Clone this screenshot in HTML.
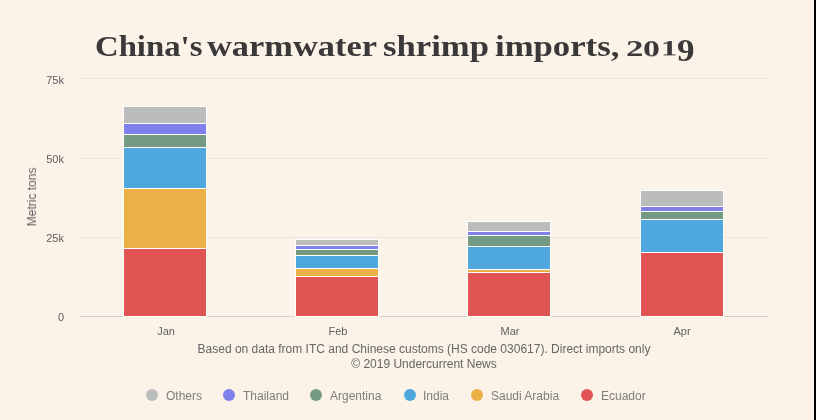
<!DOCTYPE html>
<html><head><meta charset="utf-8"><style>
html,body{margin:0;padding:0;}
body{width:816px;height:420px;background:#FBF2E8;position:relative;overflow:hidden;font-family:"Liberation Sans",sans-serif;}
.t{position:absolute;white-space:nowrap;-webkit-font-smoothing:antialiased;will-change:transform;}
.ti{font:bold 30px/36px "Liberation Serif",serif;color:#3a3838;transform-origin:0 0;}
.yl{font-size:11px;color:#606060;text-align:right;width:40px;line-height:13px;}
.xl{font-size:11px;color:#606060;text-align:center;width:60px;line-height:13px;}
.cap{font-size:12px;color:#666;text-align:center;width:848px;left:0;line-height:14px;}
.lg{font-size:12px;color:#7e7e7e;line-height:14px;margin-top:1px;}
.dot{position:absolute;width:12px;height:12px;border-radius:50%;}
</style></head><body>
<svg width="816" height="420" style="position:absolute;left:0;top:0">
<path d="M80 78.5 H768" stroke="#EEE6DD" stroke-width="1"/><path d="M80 158.5 H768" stroke="#EEE6DD" stroke-width="1"/><path d="M80 237.5 H768" stroke="#EEE6DD" stroke-width="1"/>
<path d="M80 316.5 H768" stroke="#D7D0D6" stroke-width="1"/>
<rect x="123.5" y="106.5" width="83" height="17.0" fill="#BBBDBD" stroke="#fff" stroke-width="1"/><rect x="123.5" y="123.5" width="83" height="11.0" fill="#7F80EC" stroke="#fff" stroke-width="1"/><rect x="123.5" y="134.5" width="83" height="13.0" fill="#749A84" stroke="#fff" stroke-width="1"/><rect x="123.5" y="147.5" width="83" height="41.0" fill="#4FA8DD" stroke="#fff" stroke-width="1"/><rect x="123.5" y="188.5" width="83" height="60.0" fill="#EBB046" stroke="#fff" stroke-width="1"/><rect x="123.5" y="248.5" width="83" height="68.0" fill="#E05454" stroke="#fff" stroke-width="1"/><rect x="295.5" y="239.5" width="83" height="6.0" fill="#BBBDBD" stroke="#fff" stroke-width="1"/><rect x="295.5" y="245.5" width="83" height="4.0" fill="#7F80EC" stroke="#fff" stroke-width="1"/><rect x="295.5" y="249.5" width="83" height="6.0" fill="#749A84" stroke="#fff" stroke-width="1"/><rect x="295.5" y="255.5" width="83" height="13.0" fill="#4FA8DD" stroke="#fff" stroke-width="1"/><rect x="295.5" y="268.5" width="83" height="8.0" fill="#EBB046" stroke="#fff" stroke-width="1"/><rect x="295.5" y="276.5" width="83" height="40.0" fill="#E05454" stroke="#fff" stroke-width="1"/><rect x="467.5" y="221.5" width="83" height="10.0" fill="#BBBDBD" stroke="#fff" stroke-width="1"/><rect x="467.5" y="231.5" width="83" height="4.0" fill="#7F80EC" stroke="#fff" stroke-width="1"/><rect x="467.5" y="235.5" width="83" height="11.0" fill="#749A84" stroke="#fff" stroke-width="1"/><rect x="467.5" y="246.5" width="83" height="23.0" fill="#4FA8DD" stroke="#fff" stroke-width="1"/><rect x="467.5" y="269.5" width="83" height="3.0" fill="#EBB046" stroke="#fff" stroke-width="1"/><rect x="467.5" y="272.5" width="83" height="44.0" fill="#E05454" stroke="#fff" stroke-width="1"/><rect x="640.5" y="190.5" width="83" height="16.0" fill="#BBBDBD" stroke="#fff" stroke-width="1"/><rect x="640.5" y="206.5" width="83" height="5.0" fill="#7F80EC" stroke="#fff" stroke-width="1"/><rect x="640.5" y="211.5" width="83" height="8.0" fill="#749A84" stroke="#fff" stroke-width="1"/><rect x="640.5" y="219.5" width="83" height="33.0" fill="#4FA8DD" stroke="#fff" stroke-width="1"/><rect x="640.5" y="252.5" width="83" height="64.0" fill="#E05454" stroke="#fff" stroke-width="1"/>
</svg>
<div style="position:absolute;left:814px;top:0;width:2px;height:420px;background:#000"></div>
<div class="t ti" style="left:94.5px;top:27.6px;transform:scale(1.0917,1)">China's</div><div class="t ti" style="left:206.8px;top:27.6px;transform:scale(1.1466,1)">warmwater</div><div class="t ti" style="left:382.7px;top:27.6px;transform:scale(1.1562,1)">shrimp</div><div class="t ti" style="left:495.1px;top:27.6px;transform:scale(1.157,1)">imports,</div><div class="t ti" style="left:625.7px;top:33.7px;transform:scale(1.16,0.784)">2</div><div class="t ti" style="left:642.9px;top:33.6px;transform:scale(1.131,0.8)">0</div><div class="t ti" style="left:660.8px;top:33.9px;transform:scale(1.082,0.763)">1</div><div class="t ti" style="left:676.6px;top:31.0px;transform:scale(1.169,1.068)">9</div>
<div class="t yl" style="left:24px;top:74px">75k</div>
<div class="t yl" style="left:24px;top:153px">50k</div>
<div class="t yl" style="left:24px;top:232px">25k</div>
<div class="t yl" style="left:24px;top:311px">0</div>
<div class="t" style="left:31.7px;top:197px;font-size:12px;color:#606060;transform:translate(-50%,-50%) rotate(-90deg);line-height:14px">Metric tons</div>
<div class="t xl" style="left:136px;top:325px">Jan</div>
<div class="t xl" style="left:308px;top:325px">Feb</div>
<div class="t xl" style="left:480px;top:325px">Mar</div>
<div class="t xl" style="left:652px;top:325px">Apr</div>
<div class="t cap" style="top:342px">Based on data from ITC and Chinese customs (HS code 030617). Direct imports only</div>
<div class="t cap" style="top:357px">© 2019 Undercurrent News</div>
<div class="dot" style="left:146px;top:389px;background:#BBBDBD"></div>
<div class="t lg" style="left:166px;top:388px">Others</div>
<div class="dot" style="left:223px;top:389px;background:#7F80EC"></div>
<div class="t lg" style="left:243px;top:388px">Thailand</div>
<div class="dot" style="left:310px;top:389px;background:#749A84"></div>
<div class="t lg" style="left:330px;top:388px">Argentina</div>
<div class="dot" style="left:404px;top:389px;background:#4FA8DD"></div>
<div class="t lg" style="left:423px;top:388px">India</div>
<div class="dot" style="left:471px;top:389px;background:#EBB046"></div>
<div class="t lg" style="left:491px;top:388px">Saudi Arabia</div>
<div class="dot" style="left:581px;top:389px;background:#E05454"></div>
<div class="t lg" style="left:601px;top:388px">Ecuador</div>
</body></html>
